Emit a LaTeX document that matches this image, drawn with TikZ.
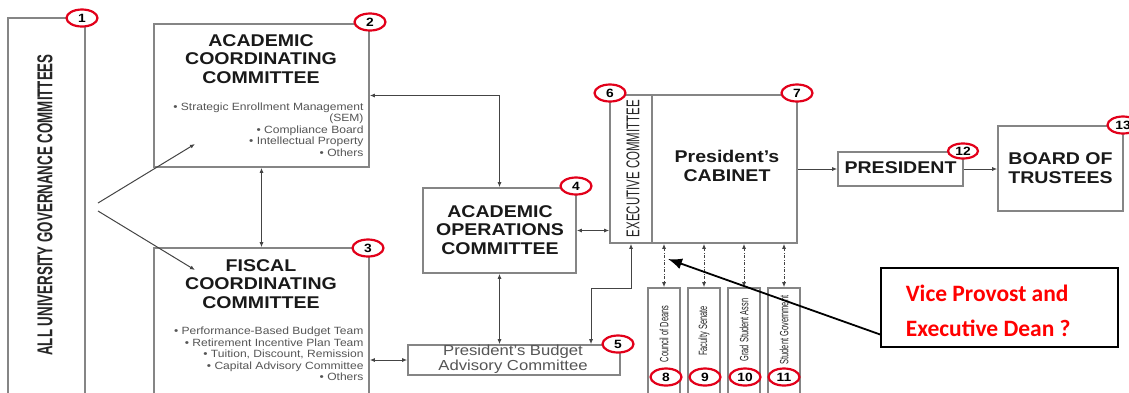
\documentclass[tikz,border=0pt]{standalone}
\usepackage{fontspec}
\setmainfont{Liberation Sans}[FakeStretch=1.15]
\newfontfamily\narrowfont{Liberation Sans}[FakeStretch=0.62]
\newfontfamily\calloutfont{Carlito}
\usetikzlibrary{arrows.meta,shapes.geometric}
\definecolor{boxgray}{HTML}{858585}
\definecolor{linkgray}{HTML}{444444}
\definecolor{itemgray}{HTML}{555555}
\definecolor{badgered}{HTML}{E2001A}
\definecolor{notered}{HTML}{FF0000}
\newcommand{\fsz}[1]{\fontsize{#1}{#1}\selectfont}

\begin{document}
\begin{tikzpicture}[x=1pt,y=-1pt,line width=1pt,
  box/.style={draw=boxgray,line width=1.6pt,fill=white,inner sep=0pt},
  title/.style={align=center,text=black!90,font=\bfseries\fontsize{17}{18.5}\selectfont},
  items/.style={align=right,text=itemgray,font=\fontsize{10.5}{11.4}\selectfont,inner sep=0pt},
  upright/.style={rotate=90,text=black!85,inner sep=0pt},
  badge/.style={draw=badgered,line width=2.2pt,fill=white,ellipse,minimum width=31pt,minimum height=17pt,inner sep=0pt,font=\bfseries\fsz{12}},
  link/.style={draw=linkgray,{Latex[length=5pt,width=4pt]}-{Latex[length=5pt,width=4pt]}},
  oneway/.style={draw=linkgray,-{Latex[length=5pt,width=4pt]}},
  dashlink/.style={link,dash pattern=on 3pt off 1.5pt on 1pt off 1.5pt}]
\useasboundingbox (0,0) rectangle (1129,392);

  \path (46.5,209) node[box,minimum width=77pt,minimum height=382pt] (b1) {};
  \path (261.5,95.5) node[box,minimum width=215pt,minimum height=143pt] (b2) {};
  \path (261.5,324) node[box,minimum width=215pt,minimum height=152pt] (b3) {};
  \path (499.5,230.5) node[box,minimum width=153pt,minimum height=85pt] (b4) {};
  \path (514,360) node[box,minimum width=212pt,minimum height=30pt] (b5) {};
  \path (631,169) node[box,minimum width=42pt,minimum height=148pt] (b6) {};
  \path (724.5,169) node[box,minimum width=145pt,minimum height=148pt] (b7) {};
  \path (664,344) node[box,minimum width=32pt,minimum height=112pt] (b8) {};
  \path (704,344) node[box,minimum width=32pt,minimum height=112pt] (b9) {};
  \path (744,344) node[box,minimum width=32pt,minimum height=112pt] (b10) {};
  \path (784,344) node[box,minimum width=32pt,minimum height=112pt] (b11) {};
  \path (900.5,169) node[box,minimum width=125pt,minimum height=34pt] (b12) {};
  \path (1060.5,168.5) node[box,minimum width=125pt,minimum height=85pt] (b13) {};
  \path (999.5,307.5) node[draw=black,line width=1.6pt,fill=white,minimum width=237pt,minimum height=79pt] (note) {};

  \path (45,205) node[upright,font=\narrowfont\bfseries\fsz{21.5}] (t1) {ALL UNIVERSITY GOVERNANCE COMMITTEES};
  \path (261,59) node[title] (t2) {ACADEMIC\\COORDINATING\\COMMITTEE};
  \path (364,129.5) node[items,anchor=east] (i2) {\textbullet\ Strategic Enrollment Management\\(SEM)\\\textbullet\ Compliance Board\\\textbullet\ Intellectual Property\\\textbullet\ Others};
  \path (261,284) node[title] (t3) {FISCAL\\COORDINATING\\COMMITTEE};
  \path (364,354) node[items,anchor=east] (i3) {\textbullet\ Performance-Based Budget Team\\\textbullet\ Retirement Incentive Plan Team\\\textbullet\ Tuition, Discount, Remission\\\textbullet\ Capital Advisory Committee\\\textbullet\ Others};
  \path (500,230) node[title] (t4) {ACADEMIC\\OPERATIONS\\COMMITTEE};
  \path (513,359) node[align=center,text=itemgray,font=\fontsize{14.5}{14.5}\selectfont] (t5) {President's Budget\\Advisory Committee};
  \path (633,168.5) node[upright,font=\narrowfont\fsz{18.5}] (t6) {EXECUTIVE COMMITTEE};
  \path (727,166) node[title] (t7) {President's\\CABINET};
  \path (664,334) node[upright,font=\narrowfont\fsz{12}] (t8) {Council of Deans};
  \path (704,331) node[upright,font=\narrowfont\fsz{12}] (t9) {Faculty Senate};
  \path (744,330) node[upright,font=\narrowfont\fsz{12}] (t10) {Grad Student Assn};
  \path (784,330) node[upright,font=\narrowfont\fsz{12}] (t11) {Student Government};
  \path (900.5,168) node[title] (t12) {PRESIDENT};
  \path (1060.5,168) node[title] (t13) {BOARD OF\\TRUSTEES};
  \path (902,310.5) node[anchor=west,align=left,text=notered,font=\calloutfont\bfseries\fontsize{23.5}{35}\selectfont] (t14) {Vice Provost and\\Executive Dean ?};

  \coordinate (fork1) at (98,203);
  \coordinate (fork2) at (98,211);
  \coordinate (tip2) at (195,144);
  \coordinate (tip3) at (195,270);
  \coordinate (bend) at (591,288);
  \coordinate (deans) at (668,259);

  \draw[oneway] (fork1) -- (tip2);
  \draw[oneway] (fork2) -- (tip3);
  \draw[link] (b2.south) -- (b3.north);
  \draw[link] (b2.east) -| (b4.north);
  \draw[link] (b4.east) -- (b4.east -| b6.west);
  \draw[link] (b4.south) -- (b4.south |- b5.north);
  \draw[link] (b6.south) |- (bend) -- (bend |- b5.north);
  \draw[link] (b5.west -| b3.east) -- (b5.west);
  \draw[oneway] (b7.east) -- (b12.west);
  \draw[oneway] (b12.east) -- (b12.east -| b13.west);
  \foreach \i in {8,9,10,11}
    \draw[dashlink] (b\i.north |- b7.south) -- (b\i.north);
  \draw[line width=1.8pt,-{Latex[length=14pt,width=11pt]}] ([yshift=-27pt]note.west) -- (deans);

  \path (82,18) node[badge] (n1) {1};
  \path (370,22) node[badge] (n2) {2};
  \path (368,248) node[badge] (n3) {3};
  \path (576,186) node[badge] (n4) {4};
  \path (618,344) node[badge] (n5) {5};
  \path (610,93) node[badge] (n6) {6};
  \path (797,93) node[badge] (n7) {7};
  \path (666,377) node[badge] (n8) {8};
  \path (705,377) node[badge] (n9) {9};
  \path (745,377) node[badge] (n10) {10};
  \path (784,377) node[badge] (n11) {11};
  \path (963,151) node[badge,minimum width=30pt,minimum height=15pt] (n12) {12};
  \path (1123,125) node[badge] (n13) {13};

\end{tikzpicture}
\end{document}
